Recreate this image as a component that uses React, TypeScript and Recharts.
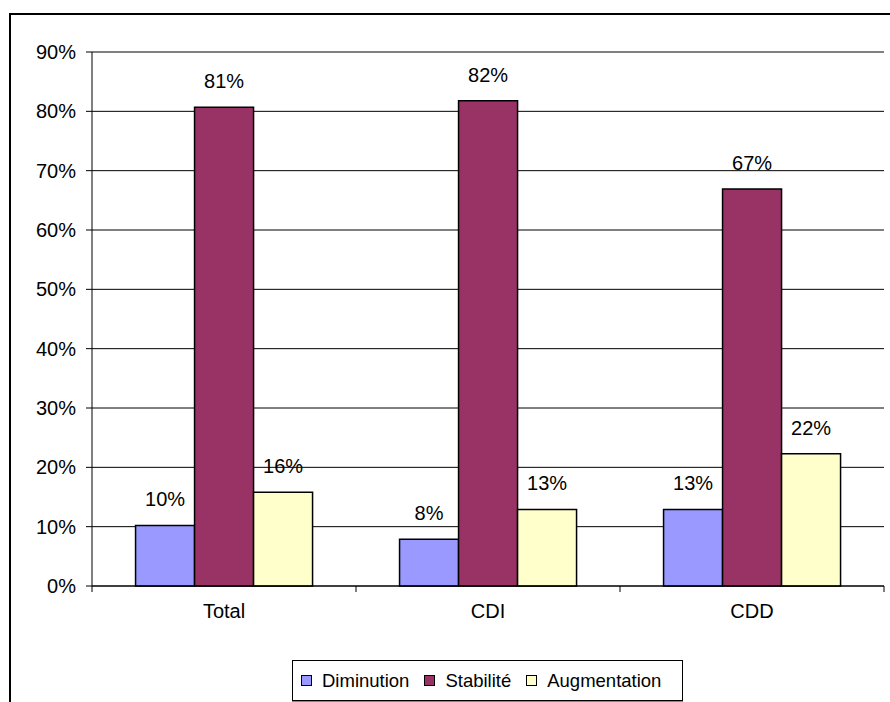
import React from "react";
import {
    BarChart,
    Bar,
    XAxis,
    YAxis,
    CartesianGrid,
    Legend,
    LabelList,
    ReferenceLine,
} from "recharts";

// categories and series
const categories = ["Total", "CDI", "CDD"];
const diminution = [0.102, 0.079, 0.129];
const stabilite = [0.807, 0.818, 0.669];
const augmentation = [0.158, 0.129, 0.223];
const yTicks = [0, 0.1, 0.2, 0.3, 0.4, 0.5, 0.6, 0.7, 0.8, 0.9];

const SERIES = [
    { key: "diminution", name: "Diminution", color: "#9999FF" },
    { key: "stabilite", name: "Stabilité", color: "#993366" },
    { key: "augmentation", name: "Augmentation", color: "#FFFFCC" },
];

const data = categories.map((name, i) => ({
    name,
    diminution: diminution[i],
    stabilite: stabilite[i],
    augmentation: augmentation[i],
}));

const FONT = "'Liberation Sans', Arial, sans-serif";
const FONT_SIZE = 20;
const LEGEND_FONT_SIZE = 18.5;
const PLOT_LEFT = 92;
const PLOT_RIGHT = 884;
const BAND = (PLOT_RIGHT - PLOT_LEFT) / categories.length;

const pct = (v: number) => `${Math.round(v * 100)}%`;

// category label in the middle, tick marks on the category boundaries (Excel style)
function CategoryTick(props: any) {
    const { x, y, payload, index } = props;
    const half = BAND / 2;
    return (
        <g>
            <line x1={x - half} y1={y - 8} x2={x - half} y2={y - 2} stroke="#000" />
            {index === categories.length - 1 && (
                <line x1={x + half} y1={y - 8} x2={x + half} y2={y - 2} stroke="#000" />
            )}
            <text
                x={x}
                y={y + 24}
                textAnchor="middle"
                fill="#000"
                fontSize={FONT_SIZE}
                fontFamily={FONT}
            >
                {payload.value}
            </text>
        </g>
    );
}

function LegendBox({ payload }: any) {
    // keep the series order rather than the alphabetical one
    const items = SERIES.map((s) => {
        const p = (payload || []).find((q: any) => q.value === s.name);
        return { name: s.name, color: p ? p.color : s.color };
    });
    return (
        <div
            style={{
                boxSizing: "border-box",
                width: 391,
                height: 41,
                border: "1px solid #000",
                boxShadow: "0 2px 0 #888",
                background: "#fff",
                display: "flex",
                alignItems: "center",
                paddingLeft: 8,
                fontFamily: FONT,
                fontSize: LEGEND_FONT_SIZE,
                color: "#000",
                whiteSpace: "nowrap",
            }}
        >
            {items.map((p) => (
                <span key={p.name} style={{ display: "flex", alignItems: "center", marginRight: 15 }}>
                    <span
                        style={{
                            display: "inline-block",
                            width: 9,
                            height: 9,
                            border: "1.5px solid #000",
                            background: p.color,
                            marginRight: 10,
                        }}
                    />
                    {p.name}
                </span>
            ))}
        </div>
    );
}

export default function App() {
    return (
        <div
            style={{
                position: "absolute",
                left: 0,
                top: 0,
                width: 890,
                height: 702,
                overflow: "hidden",
                background: "#fff",
            }}
        >
            <div
                style={{
                    position: "absolute",
                    left: 9,
                    top: 13,
                    width: 900,
                    height: 720,
                    border: "2px solid #000",
                }}
            />
            <div style={{ position: "absolute", left: 0, top: 0 }}>
                <BarChart
                    width={890}
                    height={702}
                    data={data}
                    margin={{ top: 52, right: 6, left: 0, bottom: 76 }}
                    barCategoryGap="16.5%"
                    barGap={0}
                >
                    <CartesianGrid vertical={false} stroke="#000" strokeWidth={1} />
                    <ReferenceLine y={0.9} stroke="#808080" strokeWidth={1.5} />
                    <XAxis
                        dataKey="name"
                        height={40}
                        axisLine={{ stroke: "#000" }}
                        tickLine={false}
                        tick={<CategoryTick />}
                        interval={0}
                    />
                    <YAxis
                        width={92}
                        domain={[0, 0.9]}
                        ticks={yTicks}
                        tickFormatter={pct}
                        axisLine={{ stroke: "#000" }}
                        tickLine={{ stroke: "#000" }}
                        tickSize={6}
                        tickMargin={10}
                        tick={{ fill: "#000", fontSize: FONT_SIZE, fontFamily: FONT }}
                        interval={0}
                    />
                    {/* grey plot-area border on the right */}
                    <YAxis
                        yAxisId="frame"
                        orientation="right"
                        width={0}
                        domain={[0, 0.9]}
                        tick={false}
                        tickLine={false}
                        axisLine={{ stroke: "#808080" }}
                    />
                    <Legend
                        layout="horizontal"
                        verticalAlign="middle"
                        align="center"
                        content={<LegendBox />}
                        wrapperStyle={{ top: 660, left: 292, width: 391 }}
                    />
                    {SERIES.map((s) => (
                        <Bar
                            key={s.key}
                            dataKey={s.key}
                            name={s.name}
                            fill={s.color}
                            stroke="#000"
                            strokeWidth={1.5}
                            isAnimationActive={false}
                        >
                            <LabelList
                                dataKey={s.key}
                                position="top"
                                offset={19}
                                formatter={(v: any) => pct(Number(v))}
                                style={{ fill: "#000", fontSize: FONT_SIZE, fontFamily: FONT }}
                            />
                        </Bar>
                    ))}
                </BarChart>
            </div>
        </div>
    );
}
